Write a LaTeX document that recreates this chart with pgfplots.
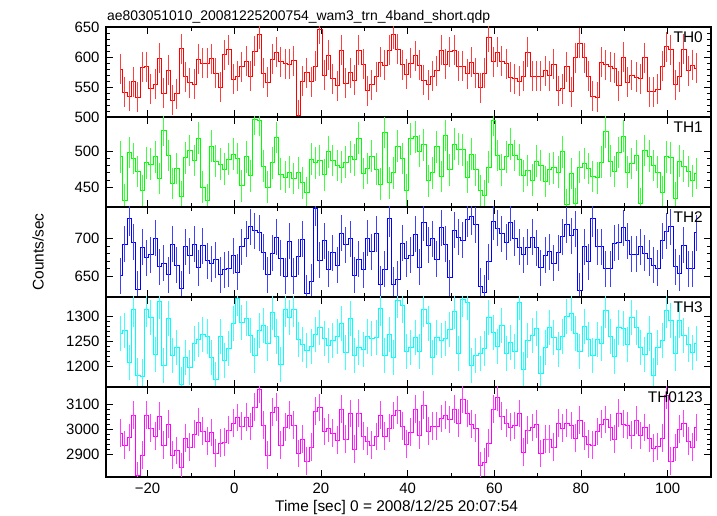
\documentclass[border=0pt]{standalone}
\usepackage{fontspec}
\setmainfont{Liberation Sans}
\usepackage{pgfplots}
\usepackage{pgfplotstable}
\pgfplotsset{compat=1.18}
\definecolor{qred}{RGB}{255,0,0}
\definecolor{qgreen}{RGB}{0,255,0}
\definecolor{qblue}{RGB}{0,0,255}
\definecolor{qcyan}{RGB}{0,255,255}
\definecolor{qmagenta}{RGB}{255,0,255}

\pgfplotstableread{
t th0 th1 th2 th3 all
-26.25 580 492 650.5 1264.4 2984
-25.25 541 432 692.7 1271.1 2936
-24.25 535 498 727.4 1206.1 2967
-23.25 559 490 695.4 1314 3057
-22.25 533 472 632.7 1181.2 2815
-21.25 583 445 688.7 1179.2 2896
-20.25 584 484 675 1314 3057
-19.25 547 482 679 1298 3005
-18.25 555 492 700.7 1223.5 2972
-17.25 598 462 662.5 1330.1 3052
-16.25 540 529 667.4 1200 2936
-15.25 578 494 651.8 1296 3020
-14.25 528 455 692.7 1220.2 2896
-13.25 539 476 664.7 1236.3 2915
-12.25 614 437 633.6 1163.1 2849
-11.25 567 491 689.6 1217.5 2964
-10.25 557 501 677.6 1197.4 2929
-9.25 555 487 692.7 1245.6 2980
-8.25 596 518 661.6 1252.4 3028
-7.25 590 450 690.9 1263.1 2993
-6.25 590 432 670.9 1259 2952
-5.25 597 507 667 1216.1 2987
-4.25 573 486 672.3 1173.2 2905
-3.25 550 482 651.8 1259.7 2944
-2.25 604 475 658.9 1210.1 2949
-1.25 612 489 660.3 1235.6 2997
-0.25 563 496 677.6 1285.9 3024
0.75 568 490 655.4 1334.8 3047
1.75 584 452 689.6 1287.9 3013
2.75 593 492 700 1295.3 3049
3.75 568 466 716 1261.7 3011
4.75 610 544 711 1220.2 3089
5.75 638 543 708 1270.5 3161
6.75 573 479 682 1281.9 3017
7.75 558 450 652 1245.6 2897
8.75 596 484 681 1307.3 3068
9.75 608 519 702 1259 3089
10.75 592 468 674 1203.4 2937
11.75 589 464 650 1314 3009
12.75 588 471 697 1298 3056
13.75 594 462 650 1312.7 3017
14.75 503 470 676.2 1252.4 2902
15.75 560 456 699.3 1243.6 2960
16.75 574 442 627.3 1230.2 2873
17.75 559 489 642.9 1239.6 2929
18.75 585 484 740.6 1262.4 3073
19.75 646 487 671.7 1277.2 3087
20.75 570 467 697.5 1255.7 2991
21.75 603 499 659.7 1241.6 3004
22.75 564 487 681.5 1251 2984
23.75 552 480 665.1 1259.7 2956
24.75 611 478 707.3 1284.5 3081
25.75 556 485 692.2 1227.5 2961
26.75 574 492 700.2 1296 3063
27.75 561 488 651.3 1221.5 2921
28.75 611 518 672.6 1237.6 3065
29.75 588 469 658.9 1232.2 2973
30.75 544 476 701.1 1259 2953
31.75 554 493 682.9 1255.7 2937
32.75 567 475 706.9 1257 2971
33.75 591 454 639.7 1315.4 3056
34.75 586 526 659.3 1221.5 2972
35.75 611 456 726.9 1262.4 3005
36.75 638 470 638.9 1217.5 3055
37.75 613 507 646 1331.5 3077
38.75 587 490 694 1321.4 3013
39.75 571 446 673.5 1229.5 2940
40.75 590 517 678.4 1236.3 2988
41.75 602 520 706 1257.7 3081
42.75 586 500 662.4 1229.5 2977
43.75 561 509 721.5 1312.7 3097
44.75 554 459 691.3 1285.9 2993
45.75 568 470 700.2 1217.5 3012
46.75 577 506 672.6 1257.7 3012
47.75 611 465 714.9 1251 3043
48.75 588 522 693.1 1254.4 3057
49.75 609 474 648.2 1272.5 3039
50.75 611 510 711.3 1310 3081
51.75 585 503 702 1224.2 3025
52.75 585 502 698 1332.8 3121
53.75 572 464 726 1328.1 3063
54.75 591 496 729.5 1200.7 3020
55.75 573 474 718.9 1221.5 3004
56.75 549 445 637.1 1224.8 2855
57.75 573 438 628.2 1234.2 2868
58.75 633 478 669.5 1296.6 2944
59.75 592 543 722.9 1267.8 3081
60.75 608 494 714.4 1238.9 3127
61.75 593 474 706.9 1281.9 3053
62.75 589 492 695.3 1224.2 3025
63.75 566 510 721.5 1247.7 3008
64.75 564 494 701.1 1228.9 3015
65.75 560 488 688.6 1328.1 3063
66.75 568 466 678.9 1193.3 2908
67.75 608 473 688.6 1251 2997
68.75 568 460 702 1261.1 3007
69.75 568 486 688.2 1274.5 3020
70.75 568 480 661.5 1185.3 2903
71.75 577 458 678 1237.6 2961
72.75 569 475 682.9 1276.5 2961
73.75 588 477 667.3 1257.7 2929
74.75 544 471 681.5 1232.2 3024
75.75 547 499 702.9 1259 3004
76.75 584 426 718.9 1299.3 3024
77.75 542 469 704.2 1306 3015
78.75 599 427 713.1 1264.4 2964
79.75 623 478 630.9 1228.9 3036
80.75 599 483 689.5 1279.2 2972
81.75 568 476 669.5 1253.7 2940
82.75 535 465 726.9 1220.2 2937
83.75 533 463 689.5 1252.4 2991
84.75 591 485 689.5 1245.6 3020
85.75 587 527 660.2 1311.4 3039
86.75 584 486 660.2 1259.7 3007
87.75 581 472 694 1218.8 2961
88.75 552 498 695.3 1277.8 3065
89.75 600 521 714.9 1274.5 3020
90.75 558 471 697.5 1243 3015
91.75 570 483 679.3 1298 2977
92.75 566 494 679.3 1277.8 3037
93.75 564 427 689.5 1237.6 2975
94.75 599 501 680.6 1222.8 3007
95.75 542 493 674 1265.8 2964
96.75 542 480 665.1 1180.6 2924
97.75 546 471 660.6 1237.6 2931
98.75 585 443 697.5 1251 2964
99.75 617 492 710.4 1311.4 3137
100.75 612 491 716.2 1291.2 2873
101.75 554 435 662.9 1224.2 2927
102.75 567 486 654 1291.2 3001
103.75 613 479 691.3 1260.4 3023
104.75 577 472 660.2 1243 2953
105.75 586 459 660.2 1227.5 2929
106.75 581 469 708.2 1245.6 3007
}\lc

\pgfplotsset{
  panel/.style={
    anchor=south west, width=605bp, height=90bp, scale only axis,
    xmin=-29.6, xmax=110,
    xtick={-20,0,20,40,60,80,100}, minor x tick num=1,
    minor y tick num=4,
    tick align=inside, xtick pos=both, ytick pos=both,
    major tick length=7bp, minor tick length=4bp,
    tick style={black, line width=0.6bp},
    axis line style={black, line width=1.1bp},
    /pgf/number format/assume math mode=true,
    yticklabel style={font=\fontsize{15}{15}\selectfont, xshift=-3bp},
    xticklabel style={font=\fontsize{15}{15}\selectfont, yshift=-3bp},
    xticklabels={},
    scaled y ticks=false,
    /pgf/number format/1000 sep={},
  },
  lc/.style 2 args={#1, line width=0.9bp, const plot mark mid,
    error bars/.cd, y dir=both, y fixed=#2, error mark=none,
    error bar style={#1!75, line width=1.1bp}},
}
\tikzset{plab/.style={anchor=north east, font=\fontsize{15.5}{15.5}\selectfont, inner sep=0pt}}

\begin{document}
\begin{tikzpicture}[x=1bp,y=1bp]
\useasboundingbox (0,0) rectangle (717,516);

\begin{axis}[panel, at={(106bp,399bp)}, ymin=500, ymax=650, ytick={500,550,600,650}]
\addplot[lc={qred}{25}] table[x=t,y=th0] {\lc};
\node[plab] at (rel axis cs:1,1) [xshift=-8bp, yshift=-5bp] {TH0};
\end{axis}

\begin{axis}[panel, at={(106bp,309bp)}, ymin=422.5, ymax=547.5, ytick={450,500}]
\addplot[lc={qgreen}{22}] table[x=t,y=th1] {\lc};
\node[plab] at (rel axis cs:1,1) [xshift=-8bp, yshift=-5bp] {TH1};
\end{axis}

\begin{axis}[panel, at={(106bp,219bp)}, ymin=622.4, ymax=742.4, ytick={650,700}]
\addplot[lc={qblue}{24}] table[x=t,y=th2] {\lc};
\node[plab] at (rel axis cs:1,1) [xshift=-8bp, yshift=-5bp] {TH2};
\end{axis}

\begin{axis}[panel, at={(106bp,129bp)}, ymin=1157.5, ymax=1338.5, ytick={1200,1250,1300}]
\addplot[lc={qcyan}{35}] table[x=t,y=th3] {\lc};
\node[plab] at (rel axis cs:1,1) [xshift=-8bp, yshift=-5bp] {TH3};
\end{axis}

\begin{axis}[panel, at={(106bp,39bp)}, ymin=2809, ymax=3169, ytick={2900,3000,3100},
  xticklabels={−20,0,20,40,60,80,100}]
\addplot[lc={qmagenta}{55}] table[x=t,y=all] {\lc};
\node[plab] at (rel axis cs:1,1) [xshift=-8bp, yshift=-5bp] {TH0123};
\end{axis}

\node[anchor=base west, font=\fontsize{14}{14}\selectfont, inner sep=0pt] at (107,495.5) {ae803051010\_20081225200754\_wam3\_trn\_4band\_short.qdp};
\node[rotate=90, font=\fontsize{15.5}{15.5}\selectfont, inner sep=0pt] at (38,264) {Counts/sec};
\node[anchor=base west, font=\fontsize{15.5}{15.5}\selectfont, inner sep=0pt] at (275,4.3) {Time [sec] 0 = 2008/12/25 20:07:54};
\end{tikzpicture}
\end{document}
